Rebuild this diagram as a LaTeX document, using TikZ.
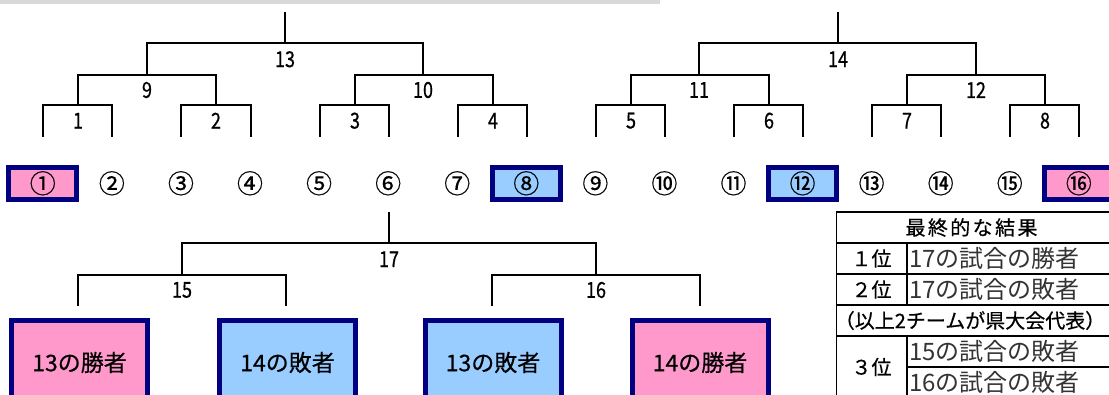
\documentclass[tikz,border=0pt]{standalone}
\usepackage{fontspec}
\setmainfont{Noto Sans CJK JP}
\newfontfamily\gothic[FakeBold=0.5]{Noto Sans CJK JP}
\newfontfamily\narrowjp[FakeStretch=0.82,FakeBold=0.6]{Noto Sans CJK JP}
\definecolor{pinkf}{HTML}{FF99CC}
\definecolor{bluef}{HTML}{99CCFF}
\definecolor{navyb}{HTML}{000080}
\definecolor{grayb}{HTML}{D9D9D9}
\begin{document}
\begin{tikzpicture}[x=1pt,y=-1pt,
  brk/.style={line width=2pt, line join=miter},
  seed/.style={inner sep=0pt, font=\gothic\fontsize{26}{27}\selectfont},
  nobox/.style={},
  pinkseed/.style={draw=navyb, fill=pinkf, line width=5pt, minimum width=68pt, minimum height=31.7pt},
  blueseed/.style={draw=navyb, fill=bluef, line width=5pt, minimum width=68pt, minimum height=31.7pt},
  num/.style={inner sep=0pt, font=\narrowjp\fontsize{22}{23}\selectfont},
  bigbox/.style={draw=navyb, line width=5pt, minimum width=136pt, minimum height=84pt, inner sep=0pt, font=\gothic\fontsize{23}{25}\selectfont},
  tline/.style={line width=1.5pt},
  ttext/.style={inner sep=0pt, font=\gothic\fontsize{20}{21}\selectfont},
  mtext/.style={inner sep=0pt, anchor=west, font=\fontsize{24}{25}\selectfont, text=black!80}
]
\useasboundingbox (0,0) rectangle (1109,394);
\clip (0,0) rectangle (1109,394);
\fill[grayb] (0,0) rectangle (660,3.5);

% seeds
\foreach \i/\t/\st in {1/①/pinkseed,2/②/nobox,3/③/nobox,4/④/nobox,5/⑤/nobox,6/⑥/nobox,7/⑦/nobox,8/⑧/blueseed,9/⑨/nobox,10/⑩/nobox,11/⑪/nobox,12/⑫/blueseed,13/⑬/nobox,14/⑭/nobox,15/⑮/nobox,16/⑯/pinkseed}
  \node[seed,\st] (s\i) at ({43.3+69.07*(\i-1)-0.5},183.3) {\t};

% first round
\foreach \k in {1,...,8} {
  \pgfmathsetmacro\xa{round(43.3+69.07*(2*\k-2))}
  \pgfmathsetmacro\xb{round(43.3+69.07*(2*\k-1))}
  \pgfmathsetmacro\xm{round((\xa+\xb)/2)}
  \coordinate (a\k) at (\xa,137);
  \coordinate (b\k) at (\xb,137);
  \coordinate (j\k) at (\xm,105);
  \node[num] (m\k) at (\xm,120.7) {\k};
  \draw[brk] (a\k) |- (j\k) -| (b\k);
}
% second round
\foreach \k in {1,...,4} {
  \pgfmathtruncatemacro\ca{2*\k-1}
  \pgfmathtruncatemacro\cb{2*\k}
  \pgfmathtruncatemacro\mm{8+\k}
  \pgfmathsetmacro\xm{round(43.3+69.07*(4*\k-4)+69.07*1.5)}
  \coordinate (j\mm) at (\xm,75);
  \node[num] (m\mm) at (\xm,90) {\mm};
  \draw[brk] (j\ca) |- (j\mm) -| (j\cb);
}
% third round
\foreach \k in {1,2} {
  \pgfmathtruncatemacro\ca{8+2*\k-1}
  \pgfmathtruncatemacro\cb{8+2*\k}
  \pgfmathtruncatemacro\mm{12+\k}
  \pgfmathsetmacro\xc{round(43.3+69.07*(8*\k-8)+69.07*3.5)}
  \coordinate (j\mm) at (\xc,43);
  \coordinate (r\mm) at (\xc,12);
  \node[num] (m\mm) at (\xc,59.3) {\mm};
  \draw[brk] (j\ca) |- (j\mm) -| (j\cb);
  \draw[brk] (j\mm) -- (r\mm);
}

% lower bracket
\coordinate (c1) at (78,306);
\coordinate (c2) at (286,306);
\coordinate (c3) at (492,306);
\coordinate (c4) at (700,306);
\coordinate (j15) at (182,275);
\coordinate (j16) at (596,275);
\coordinate (j17) at (389,243);
\coordinate (r17) at (389,212);
\draw[brk] (c1) |- (j15) -| (c2);
\draw[brk] (c3) |- (j16) -| (c4);
\draw[brk] (j15) |- (j17) -| (j16);
\draw[brk] (j17) -- (r17);
\node[num] (m15) at (182,290) {15};
\node[num] (m16) at (596,290) {16};
\node[num] (m17) at (389,259.3) {17};

\node[bigbox, fill=pinkf] (w1) at (79.5,362.5) {13の勝者};
\node[bigbox, fill=bluef] (w2) at (287.5,362.5) {14の敗者};
\node[bigbox, fill=bluef] (w3) at (493,362.5) {13の敗者};
\node[bigbox, fill=pinkf] (w4) at (700,362.5) {14の勝者};

% results table
\draw[tline] (836.5,400) -- (836.5,212) -- (1115,212);
\foreach \yy in {243,274,305,336} \draw[tline] (836.5,\yy) -- (1115,\yy);
\draw[tline] (907,367) -- (1115,367);
\draw[tline] (907,243) -- (907,305);
\draw[tline] (907,336) -- (907,400);
\node[ttext] (hd) at (971.5,227.5) {\addfontfeature{LetterSpace=12}最終的な結果};
\node[ttext] (p1) at (871.5,258.5) {１位};
\node[ttext] (p2) at (871.5,289.5) {２位};
\node[ttext] (p3) at (871.5,367) {３位};
\node[mtext] (t1) at (909,258.5) {17の試合の勝者};
\node[mtext] (t2) at (909,289.5) {17の試合の敗者};
\node[ttext] (note) at (970,320.5) {（以上2チームが県大会代表）};
\node[mtext] (t3) at (909,351.5) {15の試合の敗者};
\node[mtext] (t4) at (909,382.5) {16の試合の敗者};
\end{tikzpicture}
\end{document}
